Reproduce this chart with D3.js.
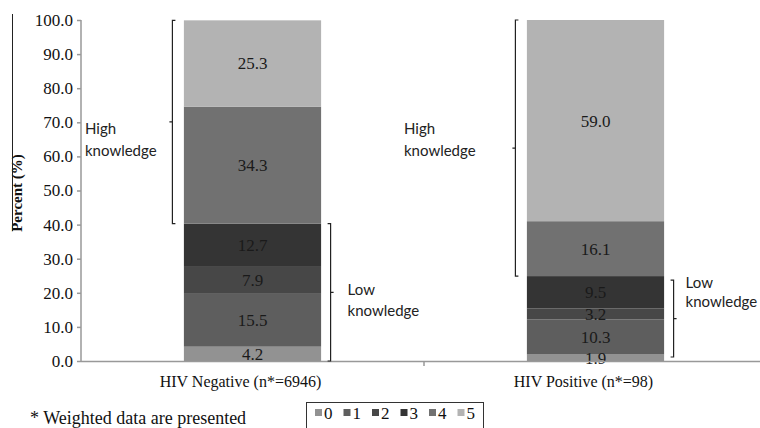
<!DOCTYPE html>
<html>
<head>
<meta charset="utf-8">
<script src="https://cdn.jsdelivr.net/npm/d3@7"></script>
<style>
  body { margin: 0; background: #fff; }
  svg { display: block; }
  .tick text { font-family: "Liberation Serif", "Times New Roman", serif; font-size: 17px; fill: #111; }
</style>
</head>
<body>
<div id="chart"></div>
<script>
var groups = ["HIV Negative (n*=6946)", "HIV Positive (n*=98)"];
var scores = ["0", "1", "2", "3", "4", "5"];
var negative = [4.2, 15.5, 7.9, 12.7, 34.3, 25.3];
var positive = [1.9, 10.3, 3.2, 9.5, 16.1, 59.0];
var yTicks = [0, 10, 20, 30, 40, 50, 60, 70, 80, 90, 100];
var colors = ["#929292", "#5e5e5e", "#474747", "#343434", "#717171", "#b3b3b3"];
var levels = [
  {name: ["High", "knowledge"], from: 4, to: 5, side: "left"},
  {name: ["Low", "knowledge"], from: 0, to: 3, side: "right"}
];

var w = 760, h = 428;
var mLeft = 81, mTop = 20, mBottom = 361;
var serif = "'Liberation Serif', 'Times New Roman', serif";

var svg = d3.select("#chart").append("svg")
  .attr("width", w)
  .attr("height", h);

var rows = groups.map(function (g, i) {
  var row = {group: g};
  var vals = i === 0 ? negative : positive;
  scores.forEach(function (s, j) { row[s] = vals[j]; });
  return row;
});

var stack = d3.stack().keys(scores)(rows);

var x = d3.scaleBand().domain(groups).range([mLeft, mLeft + 686])
  .paddingInner(0.6).paddingOuter(0.3);
var y = d3.scaleLinear().domain([0, 100]).range([mBottom, mTop]);

// bars
svg.append("g").selectAll("g")
  .data(stack)
  .enter().append("g")
  .attr("fill", function (d, i) { return colors[i]; })
  .selectAll("rect")
  .data(function (d) { return d; })
  .enter().append("rect")
  .attr("x", function (d) { return x(d.data.group); })
  .attr("y", function (d) { return y(d[1]); })
  .attr("width", x.bandwidth())
  .attr("height", function (d) { return y(d[0]) - y(d[1]); });

// value labels
svg.append("g").selectAll("g")
  .data(stack)
  .enter().append("g")
  .selectAll("text")
  .data(function (d) { return d.map(function (p) { return {p: p, key: d.key}; }); })
  .enter().append("text")
  .attr("x", function (d) { return x(d.p.data.group) + x.bandwidth() / 2; })
  .attr("y", function (d) { return (y(d.p[0]) + y(d.p[1])) / 2; })
  .attr("dy", "0.35em")
  .attr("text-anchor", "middle")
  .style("font-family", serif)
  .style("font-size", "17px")
  .style("fill", "#1a1a1a")
  .text(function (d) { return d.p.data[d.key].toFixed(1); });

// y axis
var yAxis = svg.append("g")
  .attr("transform", "translate(" + mLeft + ",0)")
  .call(d3.axisLeft(y).tickValues(yTicks).tickFormat(d3.format(".1f")).tickSize(4).tickPadding(4));
yAxis.select(".domain").attr("stroke", "#999").attr("stroke-width", 1.5).attr("d", "M0," + mTop + "V" + mBottom);
yAxis.selectAll(".tick line").attr("stroke", "#999").attr("stroke-width", 1.5);

// x axis
svg.append("line")
  .attr("x1", mLeft).attr("x2", w)
  .attr("y1", mBottom + 0.5).attr("y2", mBottom + 0.5)
  .attr("stroke", "#999").attr("stroke-width", 1.5);
svg.append("line")
  .attr("x1", x(groups[1]) - x.step() * x.paddingInner() / 2)
  .attr("x2", x(groups[1]) - x.step() * x.paddingInner() / 2)
  .attr("y1", mBottom).attr("y2", mBottom + 5)
  .attr("stroke", "#999").attr("stroke-width", 1.5);

svg.selectAll(".cat")
  .data(groups)
  .enter().append("text")
  .attr("class", "cat")
  .attr("x", function (d) { return x(d) + x.bandwidth() / 2 - 12; })
  .attr("y", 381)
  .attr("dy", "0.35em")
  .attr("text-anchor", "middle")
  .style("font-family", serif)
  .style("font-size", "16px")
  .style("fill", "#111")
  .text(function (d) { return d; });

// y title
svg.append("text")
  .attr("transform", "translate(22,193) rotate(-90)")
  .attr("text-anchor", "middle")
  .style("font-family", serif)
  .style("font-size", "15px")
  .style("font-weight", "bold")
  .style("fill", "#111")
  .text("Percent (%)");
svg.append("line")
  .attr("x1", 12.5).attr("x2", 12.5)
  .attr("y1", 14).attr("y2", 231)
  .attr("stroke", "#222").attr("stroke-width", 1);

// knowledge brackets
// bracket offset from bar, label x and first label line (in % units)
var bracketLayout = [
  [{gap: 12, lx: 85, ly: 68, lh: 22}, {gap: 9, lx: 17, ly: 21, lh: 21}],
  [{gap: 12, lx: 404, ly: 68, lh: 22}, {gap: 9, lx: 12, ly: 23, lh: 19}]
];

rows.forEach(function (row, gi) {
  levels.forEach(function (lv, li) {
    var lo = stack[lv.from][gi][0], hi = stack[lv.to][gi][1];
    var inset = (li === 1 && gi === 1) ? 4 : 0;
    var y0 = y(lo) - inset, y1 = y(hi) + inset;
    var L = bracketLayout[gi][li];
    var bx, s;
    if (lv.side === "left") { bx = x(row.group) - L.gap + 0.5; s = 1; }
    else { bx = x(row.group) + x.bandwidth() + L.gap + 0.5; s = -1; }
    var mid = (y0 + y1) / 2;
    svg.append("path")
      .attr("d", "M" + (bx + 3 * s) + "," + y1 + "H" + bx + "V" + y0 + "H" + (bx + 3 * s) +
        "M" + bx + "," + mid + "H" + (bx - 3 * s))
      .attr("fill", "none")
      .attr("stroke", "#222")
      .attr("stroke-width", 1.2);

    var tx = lv.side === "left" ? L.lx : bx + L.lx;
    svg.append("g").selectAll("text")
      .data(lv.name)
      .enter().append("text")
      .attr("x", tx)
      .attr("y", function (d, k) { return y(L.ly) + k * L.lh; })
      .attr("dy", "0.35em")
      .style("font-family", "Lato, 'Open Sans', sans-serif")
      .style("font-size", "15px")
      .style("fill", "#222")
      .text(function (d) { return d; });
  });
});

// footnote
svg.append("text")
  .attr("x", 30).attr("y", 418)
  .attr("dy", "0.35em")
  .style("font-family", serif)
  .style("font-size", "18px")
  .style("fill", "#111")
  .text("* Weighted data are presented");

// legend
var legend = svg.append("g");
legend.append("rect")
  .attr("x", 306.5).attr("y", 402.5)
  .attr("width", 177).attr("height", 40)
  .attr("fill", "none").attr("stroke", "#333");
var item = legend.selectAll(".item")
  .data(scores)
  .enter().append("g")
  .attr("class", "item")
  .attr("transform", function (d, i) { return "translate(" + (315 + i * 28.5) + ",413)"; });
item.append("rect")
  .attr("x", 0).attr("y", -4)
  .attr("width", 7).attr("height", 7)
  .attr("fill", function (d, i) { return colors[i]; });
item.append("text")
  .attr("x", 9).attr("dy", "0.35em")
  .style("font-family", serif)
  .style("font-size", "17px")
  .style("fill", "#111")
  .text(function (d) { return d; });
</script>
</body>
</html>
